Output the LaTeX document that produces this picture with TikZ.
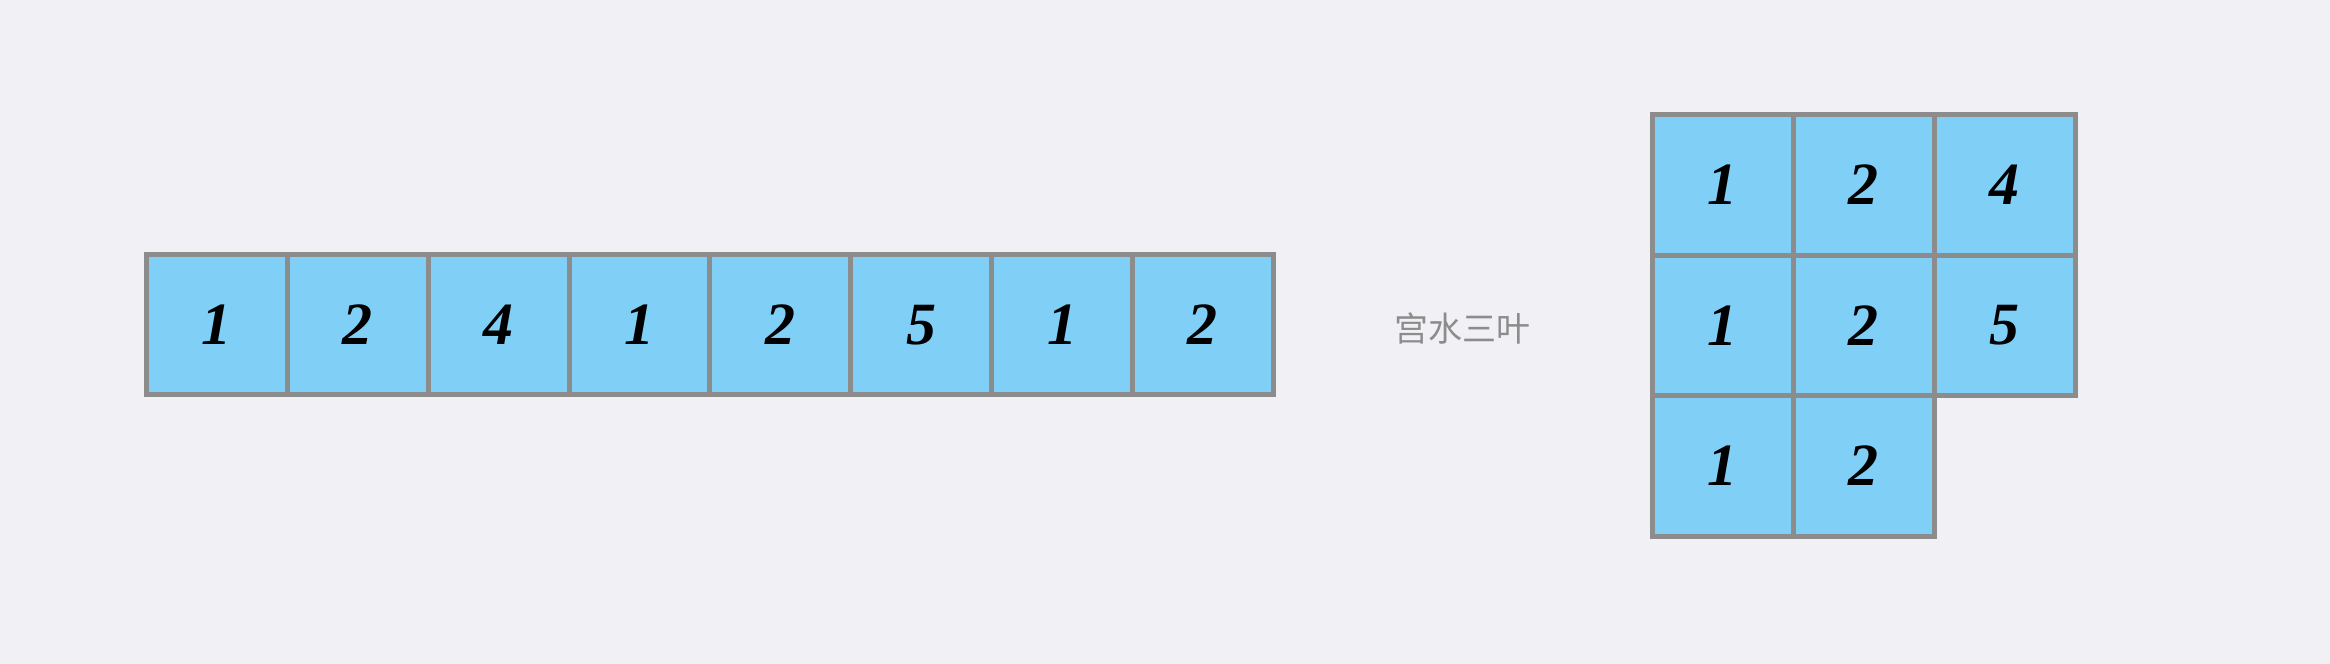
\documentclass[tikz,border=0pt]{standalone}
\usepackage{fontspec}
\setmainfont{Liberation Serif}
\newfontfamily\cjk{Noto Sans CJK SC}
\definecolor{bgc}{HTML}{F0F0F5}
\definecolor{cellc}{HTML}{7FCFF7}
\definecolor{edgec}{HTML}{8C8C8C}
\begin{document}
\begin{tikzpicture}[x=1pt,y=-1pt,
  cellbox/.style={draw=edgec,fill=cellc,line width=5pt,inner sep=0pt,outer sep=0pt,
    minimum width=140.85pt,minimum height=140.3pt,
    font=\fontsize{60}{60}\selectfont\bfseries\itshape,text=black},
  caption/.style={font=\cjk\fontsize{34}{34}\selectfont,text=edgec}]
\fill[bgc] (0,0) rectangle (2330,664);
\useasboundingbox (0,0) rectangle (2330,664);
% left row
\foreach \v [count=\i from 0] in {1,2,4,1,2,5,1,2}{
  \node[cellbox] (L\i) at ({216.9+140.85*\i},324.8) {\v};
}
% caption
\node[caption] (cap) at (1462,328) {宫水三叶};
% right grid
\node[cellbox] (R00) at (1722.95,185.05) {1};
\node[cellbox] (R01) at (1863.85,185.05) {2};
\node[cellbox] (R02) at (2004.75,185.05) {4};
\node[cellbox] (R10) at (1722.95,325.55) {1};
\node[cellbox] (R11) at (1863.85,325.55) {2};
\node[cellbox] (R12) at (2004.75,325.55) {5};
\node[cellbox] (R20) at (1722.95,466.05) {1};
\node[cellbox] (R21) at (1863.85,466.05) {2};
\end{tikzpicture}
\end{document}
